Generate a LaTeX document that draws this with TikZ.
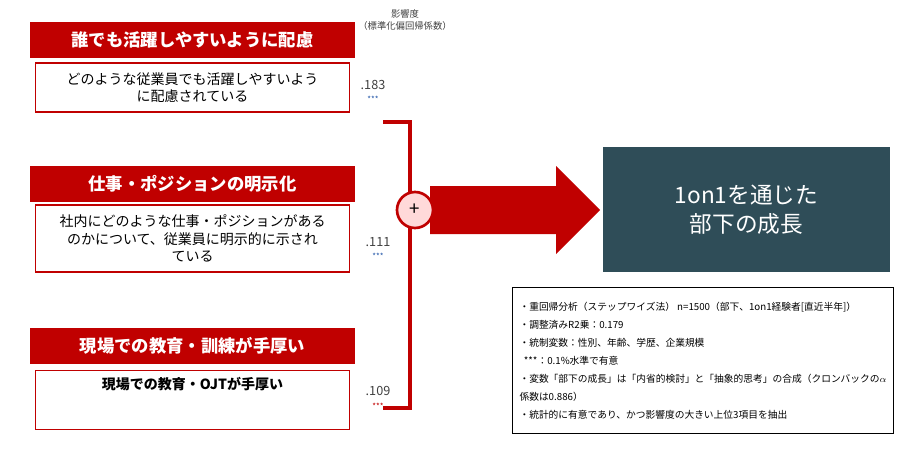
\documentclass[tikz,border=0pt]{standalone}
\usepackage{fontspec}
\setmainfont{Noto Sans CJK JP}
\definecolor{darkred}{RGB}{192,0,0}
\definecolor{teal}{RGB}{47,77,88}
\definecolor{starblue}{RGB}{40,90,170}
\tikzset{
  titlebox/.style={fill=darkred, text=white, font=\bfseries\fontsize{13}{15}\selectfont,
    minimum width=243.75pt, minimum height=27pt, inner sep=0pt},
  descbox/.style={draw=darkred, line width=0.8pt, fill=white, font=\fontsize{10.5}{13}\selectfont,
    minimum width=236pt, inner sep=2pt, align=center},
  coef/.style={font=\fontsize{9.5}{10}\selectfont, text=black!75},
  stars/.style={font=\fontsize{6}{7}\selectfont}
}
\begin{document}
\begin{tikzpicture}[x=0.75pt, y=-0.75pt]
      \useasboundingbox (0,0) rectangle (920,450);

      \node[titlebox] (t1) at (192.5,40) {誰でも活躍しやすいように配慮};
      \node[titlebox] (t2) at (192.5,183.5) {仕事・ポジションの明示化};
      \node[titlebox] (t3) at (192.5,346) {現場での教育・訓練が手厚い};

      \node[descbox, minimum height=36.75pt] (d1) at (192.5,87.5) {どのような従業員でも活躍しやすいよう\\に配慮されている};
      \node[descbox, minimum height=50.25pt] (d2) at (192.5,238.5) {社内にどのような仕事・ポジションがある\\のかについて、従業員に明示的に示され\\ている};
      \node[descbox, minimum height=36pt, anchor=north, inner sep=5pt] (d3) at (192.5,370) {\textbf{現場での教育・OJTが手厚い}\\[12pt]};

      \node[font=\fontsize{7}{8.5}\selectfont, align=center, text=black!75] (head) at (405,20) {影響度\\（標準化偏回帰係数）};

      \node[coef] (c1) at (373,85) {.183};
      \node[stars, text=starblue] (s1) at (373,99) {***};
      \node[coef] (c2) at (378,242) {.111};
      \node[stars, text=starblue] (s2) at (378,256) {***};
      \node[coef] (c3) at (378,391) {.109};
      \node[stars, text=darkred] (s3) at (378,406) {***};

      % bracket
      \coordinate (b1) at (383,122);
      \coordinate (b2) at (383,408);
      \draw[darkred, line width=3pt] (b1) -| (410,408) -- (b2);

      % arrow
      \fill[darkred] (430,186) -- (556,186) -- (556,166) -- (600,210) -- (556,254)
        -- (556,234) -- (430,234) -- cycle;
      \node[circle, draw=darkred, line width=2pt, fill=red!15!white, minimum size=27pt,
        inner sep=0pt, font=\fontsize{14}{14}\selectfont] (plus) at (415,210) {+};

      \node[fill=teal, text=white, minimum width=215pt, minimum height=94pt, align=center,
        font=\fontsize{17}{22}\selectfont] (goal) at (746.5,209.5) {1on1を通じた\\部下の成長};

      \node[draw=black, line width=0.6pt, anchor=north west, minimum width=286pt, minimum height=109.5pt,
        align=left, inner sep=4pt, font=\fontsize{7.3}{13.5}\selectfont] (note) at (512,287)
        {・重回帰分析（ステップワイズ法） n=1500（部下、1on1経験者[直近半年]）\\
         ・調整済みR2乗：0.179\\
         ・統制変数：性別、年齢、学歴、企業規模\\
         \ \ ***：0.1\%水準で有意\\
         ・変数「部下の成長」は「内省的検討」と「抽象的思考」の合成（クロンバックの$\alpha$\\
         係数は0.886）\\
         ・統計的に有意であり、かつ影響度の大きい上位3項目を抽出};
\end{tikzpicture}
\end{document}
